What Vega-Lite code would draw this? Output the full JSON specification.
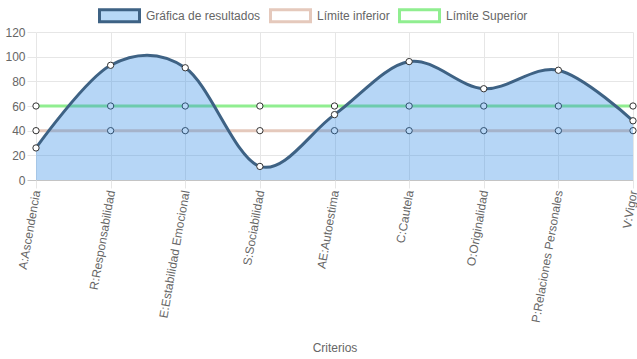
{
  "$schema": "https://vega.github.io/schema/vega-lite/v6.json",
  "autosize": {"type": "none"},
  "width": 597,
  "height": 148,
  "padding": {"left": 36, "top": 32, "right": 4, "bottom": 179},
  "background": "#ffffff",
  "config": {
    "view": {"stroke": null},
    "font": "Liberation Sans",
    "axis": {"labelFont": "Liberation Sans", "titleFont": "Liberation Sans"},
    "legend": {"labelFont": "Liberation Sans"}
  },
  "data": {
    "values": [
      {"c": "A:Ascendencia", "s": "Gráfica de resultados", "v": 26},
      {"c": "R:Responsabilidad", "s": "Gráfica de resultados", "v": 93},
      {"c": "E:Estabilidad Emocional", "s": "Gráfica de resultados", "v": 91},
      {"c": "S:Sociabilidad", "s": "Gráfica de resultados", "v": 11},
      {"c": "AE:Autoestima", "s": "Gráfica de resultados", "v": 53},
      {"c": "C:Cautela", "s": "Gráfica de resultados", "v": 96},
      {"c": "O:Originalidad", "s": "Gráfica de resultados", "v": 74},
      {"c": "P:Relaciones Personales", "s": "Gráfica de resultados", "v": 89},
      {"c": "V:Vigor", "s": "Gráfica de resultados", "v": 48},
      {"c": "A:Ascendencia", "s": "Límite inferior", "v": 40},
      {"c": "R:Responsabilidad", "s": "Límite inferior", "v": 40},
      {"c": "E:Estabilidad Emocional", "s": "Límite inferior", "v": 40},
      {"c": "S:Sociabilidad", "s": "Límite inferior", "v": 40},
      {"c": "AE:Autoestima", "s": "Límite inferior", "v": 40},
      {"c": "C:Cautela", "s": "Límite inferior", "v": 40},
      {"c": "O:Originalidad", "s": "Límite inferior", "v": 40},
      {"c": "P:Relaciones Personales", "s": "Límite inferior", "v": 40},
      {"c": "V:Vigor", "s": "Límite inferior", "v": 40},
      {"c": "A:Ascendencia", "s": "Límite Superior", "v": 60},
      {"c": "R:Responsabilidad", "s": "Límite Superior", "v": 60},
      {"c": "E:Estabilidad Emocional", "s": "Límite Superior", "v": 60},
      {"c": "S:Sociabilidad", "s": "Límite Superior", "v": 60},
      {"c": "AE:Autoestima", "s": "Límite Superior", "v": 60},
      {"c": "C:Cautela", "s": "Límite Superior", "v": 60},
      {"c": "O:Originalidad", "s": "Límite Superior", "v": 60},
      {"c": "P:Relaciones Personales", "s": "Límite Superior", "v": 60},
      {"c": "V:Vigor", "s": "Límite Superior", "v": 60}
    ]
  },
  "encoding": {
    "x": {
      "field": "c",
      "type": "nominal",
      "sort": null,
      "scale": {"type": "point", "padding": 0},
      "axis": {
        "title": "Criterios",
        "titleColor": "#666666",
        "titleFontSize": 12,
        "titleFontWeight": "normal",
        "titleBaseline": "middle",
        "titleY": 167,
        "labelAngle": -80,
        "labelColor": "#666666",
        "labelFontSize": 12,
        "labelPadding": 2,
        "tickSize": 8,
        "tickColor": "#e6e6e6",
        "grid": true,
        "gridColor": "#e6e6e6",
        "domain": false
      }
    },
    "y": {
      "field": "v",
      "type": "quantitative",
      "scale": {"domain": [0, 120], "nice": false},
      "axis": {
        "title": null,
        "values": [0, 20, 40, 60, 80, 100, 120],
        "labelColor": "#666666",
        "labelFontSize": 12,
        "labelPadding": 2,
        "tickSize": 9,
        "tickColor": {"condition": {"test": "datum.value === 0", "value": "#c4c4c4"}, "value": "#e6e6e6"},
        "grid": true,
        "gridColor": {"condition": {"test": "datum.value === 0", "value": "#c4c4c4"}, "value": "#e6e6e6"},
        "domain": false
      }
    }
  },
  "layer": [
    {
      "transform": [{"filter": "datum.s !== 'Gráfica de resultados'"}],
      "mark": {"type": "line", "strokeWidth": 3},
      "encoding": {
        "stroke": {
          "field": "s",
          "type": "nominal",
          "scale": {
            "domain": ["Gráfica de resultados", "Límite inferior", "Límite Superior"],
            "range": ["#3e6284", "#e5c9bc", "#90ee90"]
          },
          "legend": {
            "title": null,
            "orient": "none",
            "direction": "horizontal",
            "legendX": 62,
            "legendY": -38,
            "symbolType": "M-1,-0.3H1V0.3H-1Z",
            "symbolSize": 1600,
            "symbolStrokeWidth": 3,
            "symbolOpacity": 1,
            "labelColor": "#666666",
            "labelFontSize": 12,
            "labelOffset": 5,
            "columnPadding": 3,
            "encode": {
              "symbols": {
                "update": {
                  "fill": {"signal": "datum.value === 'Gráfica de resultados' ? '#b7d8f6' : '#ffffff'"},
                  "fillOpacity": {"value": 1}
                }
              }
            }
          }
        }
      }
    },
    {
      "transform": [{"filter": "datum.s !== 'Gráfica de resultados'"}],
      "mark": {"type": "point", "filled": false, "fill": "#ffffff", "fillOpacity": 1, "stroke": "#333333", "strokeWidth": 1, "size": 40, "opacity": 1}
    },
    {
      "transform": [{"filter": "datum.s === 'Gráfica de resultados'"}],
      "mark": {"type": "area", "interpolate": "cardinal", "fill": "#2f8ae6", "fillOpacity": 0.35}
    },
    {
      "transform": [{"filter": "datum.s === 'Gráfica de resultados'"}],
      "mark": {"type": "line", "interpolate": "cardinal", "strokeWidth": 3},
      "encoding": {
        "stroke": {"field": "s", "type": "nominal"}
      }
    },
    {
      "transform": [{"filter": "datum.s === 'Gráfica de resultados'"}],
      "mark": {"type": "point", "filled": false, "fill": "#ffffff", "fillOpacity": 1, "stroke": "#333333", "strokeWidth": 1, "size": 40, "opacity": 1}
    }
  ]
}
